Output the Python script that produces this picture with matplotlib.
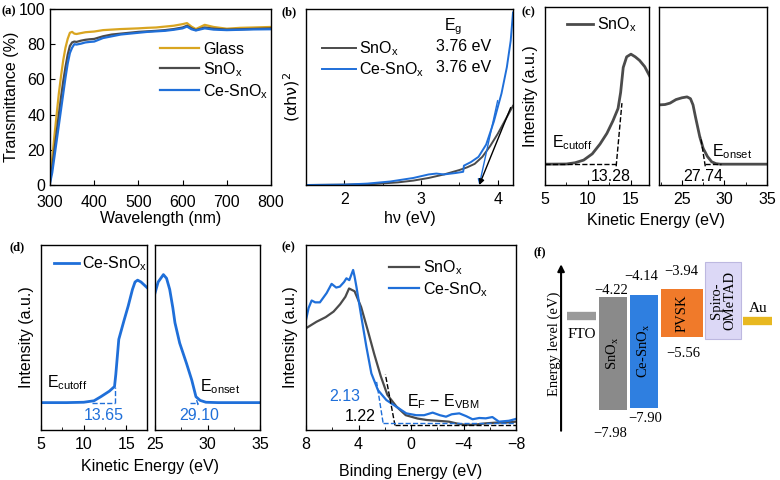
import matplotlib
matplotlib.use('Agg')
import matplotlib.pyplot as plt
from matplotlib.ticker import MultipleLocator

plt.rcParams['font.family'] = ['Liberation Sans', 'DejaVu Sans']
plt.rcParams['mathtext.default'] = 'regular'
plt.rcParams['font.size'] = 11.5
plt.rcParams['axes.linewidth'] = 1.0
plt.rcParams['xtick.direction'] = 'in'
plt.rcParams['ytick.direction'] = 'in'
plt.rcParams['xtick.major.size'] = 3.5
plt.rcParams['xtick.major.pad'] = 5
plt.rcParams['xtick.minor.size'] = 2
plt.rcParams['ytick.major.size'] = 3.5

gold = '#d9a520'
grey = '#4b4b4b'
blue = '#1f6fd9'
serif = ['Liberation Serif', 'DejaVu Serif']

# (a) transmittance
wl = [300, 305, 310, 315, 320, 325, 330, 335, 340, 345, 350, 355, 360, 370, 380, 390, 400,
      420, 440, 460, 480, 500, 520, 540, 560, 580, 600, 610, 620, 630, 650, 670, 700, 730, 760, 800]
t_glass = [3, 15, 28, 40, 52, 62, 71, 78, 83, 86.5, 87, 86, 85.8, 86.3, 86.8, 87, 87.2,
           88, 88.3, 88.6, 88.8, 89, 89.3, 89.5, 90, 90.5, 91.4, 92, 90, 88.6, 91, 89.8, 88.8, 89.3, 89.5, 89.8]
t_snox = [2, 10, 20, 30, 40, 50, 59, 67, 74, 79, 81, 81.5, 81.3, 82, 82.5, 82.8, 83,
          84.5, 85.5, 86, 86.5, 87, 87.3, 87.6, 88, 88.6, 89.5, 90.5, 89, 88, 89.5, 88.8, 88.3, 88.5, 88.7, 89]
t_ce = [1, 7, 16, 25, 34, 43, 52, 61, 69, 75, 78, 80, 79.8, 80.3, 81, 81.3, 81.5,
        83.5, 84.5, 85.5, 86, 86.5, 87, 87.3, 87.6, 88.2, 89, 90, 88.5, 87.8, 89, 88.3, 88, 88.2, 88.4, 88.5]

# (b) Tauc plot
hv_sn = [1.5, 2.0, 2.4, 2.7, 2.9, 3.1, 3.3, 3.5, 3.6, 3.7, 3.8, 3.9, 4.0, 4.1, 4.2]
ah_sn = [0, 0.002, 0.006, 0.015, 0.025, 0.04, 0.06, 0.085, 0.1, 0.12, 0.16, 0.22, 0.29, 0.37, 0.45]
hv_ce = [1.5, 2.0, 2.3, 2.6, 2.9, 3.1, 3.2, 3.3, 3.45, 3.55, 3.56, 3.65, 3.75, 3.85, 3.95, 4.05, 4.12, 4.17, 4.2]
ah_ce = [0, 0.002, 0.008, 0.02, 0.04, 0.06, 0.065, 0.06, 0.068, 0.075, 0.11, 0.13, 0.16, 0.23, 0.36, 0.52, 0.67, 0.82, 0.98]
eg_sn = 3.76
eg_ce = 3.76

# (c) SnOx UPS
ke_c1 = [5, 7.5, 8.5, 9.5, 10.5, 11.4, 12.2, 12.9, 13.5, 13.8, 14.1, 14.5, 15.0, 15.5, 16.0, 16.6, 17.2]
in_c1 = [0.117, 0.118, 0.125, 0.14, 0.175, 0.23, 0.29, 0.36, 0.43, 0.52, 0.66, 0.72, 0.735, 0.72, 0.70, 0.665, 0.61]
ke_c2 = [22.3, 23.0, 23.6, 24.3, 25.0, 25.6, 26.0, 26.3, 26.6, 27.1, 27.5, 28.0, 28.5, 29.0, 29.5, 35]
in_c2 = [0.45, 0.452, 0.46, 0.48, 0.49, 0.495, 0.485, 0.45, 0.38, 0.27, 0.205, 0.16, 0.13, 0.12, 0.117, 0.117]
cut_sn = 13.28
ons_sn = 27.74

# (d) Ce-SnOx UPS
ke_d1 = [5, 8, 10, 11.2, 12.0, 13.0, 13.6, 13.75, 14.1, 14.7, 15.2, 15.7, 16.0, 16.3, 16.7, 17.4]
in_d1 = [0.148, 0.148, 0.15, 0.158, 0.18, 0.21, 0.235, 0.30, 0.49, 0.59, 0.67, 0.76, 0.80, 0.81, 0.80, 0.77]
ke_d2 = [25.0, 25.3, 25.8, 26.1, 26.4, 26.7, 26.9, 27.35, 28.0, 28.5, 28.9, 29.3, 29.85, 31.0, 33, 35.3]
in_d2 = [0.74, 0.80, 0.84, 0.82, 0.76, 0.66, 0.58, 0.47, 0.36, 0.27, 0.18, 0.16, 0.15, 0.148, 0.148, 0.148]
cut_ce = 13.65
ons_ce = 29.10

# (e) valence band
be_sn = [8.0, 7.2, 6.5, 5.9, 5.4, 5.0, 4.72, 4.3, 3.8, 3.3, 2.8, 2.3, 1.8, 1.1, 0.4, -0.5, -1.2,
         -2.0, -2.9, -3.5, -4.2, -5.0, -5.7, -6.5, -7.2, -8.0]
vb_sn = [0.55, 0.585, 0.61, 0.64, 0.68, 0.72, 0.765, 0.75, 0.665, 0.54, 0.41, 0.29, 0.19, 0.126, 0.08,
         0.062, 0.054, 0.05, 0.045, 0.035, 0.027, 0.03, 0.036, 0.04, 0.04, 0.045]
be_ce = [8.0, 7.8, 7.57, 7.3, 6.94, 6.43, 6.05, 5.7, 5.42, 5.1, 4.92, 4.7, 4.41, 4.3, 4.16, 3.78, 3.4,
         3.02, 2.52, 1.88, 1.12, 0.36, -0.4, -1.0, -1.65, -2.2, -2.67, -3.1, -3.68, -4.2, -4.69,
         -5.2, -5.7, -6.2, -6.7, -7.47, -8.0]
vb_ce = [0.595, 0.66, 0.70, 0.69, 0.69, 0.74, 0.79, 0.77, 0.775, 0.80, 0.82, 0.81, 0.865, 0.83, 0.775,
         0.61, 0.45, 0.306, 0.216, 0.162, 0.126, 0.09, 0.08, 0.08, 0.094, 0.08, 0.072, 0.085, 0.09,
         0.075, 0.058, 0.065, 0.063, 0.07, 0.045, 0.05, 0.06]
vbm_sn = 1.22
vbm_ce = 2.13

# (f) energy levels
layers = ['FTO', 'SnO$_x$', 'Ce-SnO$_x$', 'PVSK', 'Spiro-\nOMeTAD', 'Au']
lumo = [-4.85, -4.22, -4.14, -3.94, -3.05, -5.0]
homo = [-4.85, -7.98, -7.90, -5.56, -5.60, -5.0]
layer_col = ['#9a9a9a', '#8a8a8a', '#2f7fe0', '#f07a2a', '#dcd8f6', '#e8b820']

fig = plt.figure(figsize=(7.8, 4.8), dpi=100)


def px_axes(l, r, t, b):
    return fig.add_axes([l / 780, 1 - b / 480, (r - l) / 780, (b - t) / 480])


def panel_label(x, y, s):
    fig.text(x / 780, 1 - y / 480, s, family=serif, weight='bold', fontsize=9, va='center')


def minus(v):
    return ('%.2f' % v).replace('-', '\u2212')


# ---- (a)
ax = px_axes(50, 271, 9, 185)
ax.plot(wl, t_glass, color=gold, lw=1.6, label='Glass')
ax.plot(wl, t_snox, color=grey, lw=1.6, label='SnO$_x$')
ax.plot(wl, t_ce, color=blue, lw=1.6, label='Ce-SnO$_x$')
ax.set_xlim(300, 800)
ax.set_ylim(0, 100)
ax.set_xticks(range(300, 801, 100))
ax.set_yticks(range(0, 101, 20))
ax.tick_params(axis='x', pad=7)
ax.set_xlabel('Wavelength (nm)', labelpad=1)
ax.set_ylabel('Transmittance (%)', labelpad=0)
ax.legend(frameon=False, loc='upper left', bbox_to_anchor=(0.47, 0.85), handlelength=2.45,
          handletextpad=0.25, labelspacing=0.2, borderaxespad=0)
panel_label(1, 11, '(a)')

# ---- (b)
ax = px_axes(306, 513, 9, 185)
ax.plot(hv_sn, ah_sn, color=grey, lw=1.4, label='SnO$_x$')
ax.plot(hv_ce, ah_ce, color=blue, lw=1.4, label='Ce-SnO$_x$')
ax.annotate('', xy=(eg_ce, 0), xytext=(4.0, 0.48),
            arrowprops=dict(arrowstyle='-|>', color=blue, lw=1.0, mutation_scale=8,
                            shrinkA=0, shrinkB=0))
ax.annotate('', xy=(eg_sn, 0), xytext=(4.17, 0.44),
            arrowprops=dict(arrowstyle='-|>', color='black', lw=1.0, mutation_scale=8,
                            shrinkA=0, shrinkB=0))
ax.set_xlim(1.5, 4.2)
ax.set_ylim(0, 1)
ax.set_yticks([])
ax.set_xticks([2, 3, 4])
ax.xaxis.set_minor_locator(MultipleLocator(0.5))
ax.set_xlabel('h\u03bd (eV)', labelpad=3)
ax.set_ylabel('(\u03b1h\u03bd)$^2$', labelpad=3, family=['DejaVu Sans'])
ax.legend(frameon=False, loc='upper left', bbox_to_anchor=(0.045, 0.865), handlelength=2.15,
          handletextpad=0.2, labelspacing=0.15, borderaxespad=0)
ax.text(3.42, 0.9, 'E$_g$', ha='center', va='center')
ax.text(3.55, 0.786, '%.2f eV' % eg_sn, ha='center', va='center')
ax.text(3.55, 0.665, '%.2f eV' % eg_ce, ha='center', va='center')
panel_label(281, 12, '(b)')

# ---- (c)
ax1 = px_axes(545, 649, 7, 185)
ax2 = px_axes(659, 767, 7, 185)
ax1.plot(ke_c1, in_c1, color=grey, lw=2, label='SnO$_x$')
ax2.plot(ke_c2, in_c2, color=grey, lw=2)
ax1.plot([5, cut_sn], [0.117, 0.117], 'k--', lw=1)
ax1.plot([cut_sn, 13.95], [0.105, 0.46], 'k--', lw=1)
ax2.plot([ons_sn, 29.6], [0.117, 0.117], 'k--', lw=1)
ax2.plot([ons_sn, 27.2], [0.105, 0.27], 'k--', lw=1)
ax1.set_xlim(5, 17.1)
ax2.set_xlim(22.3, 35)
for a in (ax1, ax2):
    a.set_ylim(0, 1)
    a.set_yticks([])
    a.xaxis.set_minor_locator(MultipleLocator(2.5))
ax1.set_xticks([5, 10, 15])
ax2.set_xticks([25, 30, 35])
ax1.set_ylabel('Intensity (a.u.)', labelpad=5)
ax1.text(5.8, 0.236, 'E$_{cutoff}$', va='center')
ax1.text(12.6, 0.047, '%.2f' % cut_sn, ha='center', va='center')
ax2.text(28.5, 0.187, 'E$_{onset}$', va='center')
ax2.text(27.5, 0.047, '%.2f' % ons_sn, ha='center', va='center')
ax1.legend(frameon=False, loc='upper left', bbox_to_anchor=(0.15, 0.99), handlelength=1.6,
           handletextpad=0.25, borderaxespad=0)
fig.text(656 / 780, 1 - 221 / 480, 'Kinetic Energy (eV)', ha='center', va='center')
panel_label(522, 12, '(c)')

# ---- (d)
ax1 = px_axes(41, 147, 245, 430)
ax2 = px_axes(155, 260, 245, 430)
ax1.plot(ke_d1, in_d1, color=blue, lw=2, label='Ce-SnO$_x$')
ax2.plot(ke_d2, in_d2, color=blue, lw=2)
ax1.plot([11.0, cut_ce], [0.148, 0.148], '--', color=blue, lw=1)
ax1.plot([cut_ce, cut_ce], [0.148, 0.235], '--', color=blue, lw=1)
ax2.plot([28.3, ons_ce], [0.148, 0.148], '--', color=blue, lw=1)
ax2.plot([ons_ce, 28.9], [0.135, 0.175], '--', color=blue, lw=1)
ax1.set_xlim(5, 17.4)
ax2.set_xlim(25, 35)
for a in (ax1, ax2):
    a.set_ylim(0, 1)
    a.set_yticks([])
    a.xaxis.set_minor_locator(MultipleLocator(2.5))
ax1.set_xticks([5, 10, 15])
ax2.set_xticks([25, 30, 35])
ax1.set_ylabel('Intensity (a.u.)', labelpad=5)
ax1.text(5.7, 0.254, 'E$_{cutoff}$', va='center')
ax1.text(12.3, 0.081, '%.2f' % cut_ce, ha='center', va='center', color=blue)
ax2.text(29.25, 0.234, 'E$_{onset}$', va='center')
ax2.text(29.25, 0.081, '%.2f' % ons_ce, ha='center', va='center', color=blue)
ax1.legend(frameon=False, loc='upper left', bbox_to_anchor=(0.06, 0.985), handlelength=1.55,
           handletextpad=0.25, borderaxespad=0)
fig.text(150 / 780, 1 - 467 / 480, 'Kinetic Energy (eV)', ha='center', va='center')
panel_label(9, 247, '(d)')

# ---- (e)
ax = px_axes(306, 516, 245, 430)
ax.plot(be_sn, vb_sn, color=grey, lw=1.6, label='SnO$_x$')
ax.plot(be_ce, vb_ce, color=blue, lw=1.6, label='Ce-SnO$_x$')
ax.plot([vbm_sn, -8], [0.025, 0.025], 'k--', lw=1)
ax.plot([vbm_sn, 1.95], [0.025, 0.30], 'k--', lw=1)
ax.plot([vbm_ce, -8], [0.04, 0.04], '--', color=blue, lw=1)
ax.plot([vbm_ce, 2.62], [0.04, 0.26], '--', color=blue, lw=1)
ax.set_xlim(8, -8)
ax.set_ylim(0, 1)
ax.set_yticks([])
ax.set_xticks([8, 4, 0, -4, -8])
ax.set_xticklabels(['8', '4', '0', '\u22124', '\u22128'])
ax.xaxis.set_minor_locator(MultipleLocator(2))
ax.set_xlabel('Binding Energy (eV)', labelpad=8.5)
ax.set_ylabel('Intensity (a.u.)', labelpad=6)
ax.text(5.04, 0.18, '%.2f' % vbm_ce, ha='center', va='center', color=blue)
ax.text(3.9, 0.072, '%.2f' % vbm_sn, ha='center', va='center')
ax.text(0.27, 0.153, 'E$_F$ \u2212 E$_{VBM}$', va='center')
ax.legend(frameon=False, loc='upper left', bbox_to_anchor=(0.365, 0.96), handlelength=1.9,
          handletextpad=0.25, labelspacing=0.15, borderaxespad=0)
panel_label(281, 247, '(e)')

# ---- (f)
ax = px_axes(555, 780, 255, 440)
ax.set_xlim(0, 225 / 28.5)
ax.set_ylim(-8.98, -2.81)
ax.set_axis_off()
widths = [1.03, 1.0, 1.0, 1.47, 1.25, 1.02]
top_off = [None, (-1, 0.5), (-2, 8.5), (0, 8), None, None]
bot_off = [None, (-2, -12), (1, -3), (1, -7), None, None]
x = 0.41
for i, name in enumerate(layers):
    w = widths[i]
    xc = x + w / 2
    if lumo[i] == homo[i]:
        ax.plot([x, x + w], [lumo[i], lumo[i]], color=layer_col[i], lw=6, solid_capstyle='butt')
        if name == 'FTO':
            ax.text(xc, lumo[i] - 0.4, name, ha='center', va='top', family=serif, fontsize=11)
        else:
            ax.text(xc, lumo[i] + 0.2, name, ha='center', va='bottom', family=serif, fontsize=11)
    else:
        ax.bar(x, lumo[i] - homo[i], bottom=homo[i], width=w, align='edge', color=layer_col[i],
               edgecolor='#bdb8e0' if name.startswith('Spiro') else 'none', lw=0.8)
        ax.text(xc, (lumo[i] + homo[i]) / 2, name, ha='center', va='center', rotation=90,
                family=serif, fontsize=10.5, linespacing=1.0)
        if top_off[i] is not None:
            ax.annotate(minus(lumo[i]), (xc, lumo[i]), xytext=top_off[i], textcoords='offset points',
                        ha='center', va='bottom', family=serif, fontsize=10.5)
            ax.annotate(minus(homo[i]), (xc, homo[i]), xytext=bot_off[i], textcoords='offset points',
                        ha='center', va='top', family=serif, fontsize=10.5)
    x += w + 0.09
ax.annotate('', xy=(0.027, 0.965), xytext=(0.027, 0.035), xycoords='axes fraction',
            arrowprops=dict(arrowstyle='-|>', color='black', lw=1.5, mutation_scale=10))
ax.text(-0.005, 0.52, 'Energy level (eV)', transform=ax.transAxes, rotation=90, ha='center',
        va='center', family=serif, fontsize=10.5)
panel_label(533, 252, '(f)')

fig.savefig('out.png', dpi=100)
